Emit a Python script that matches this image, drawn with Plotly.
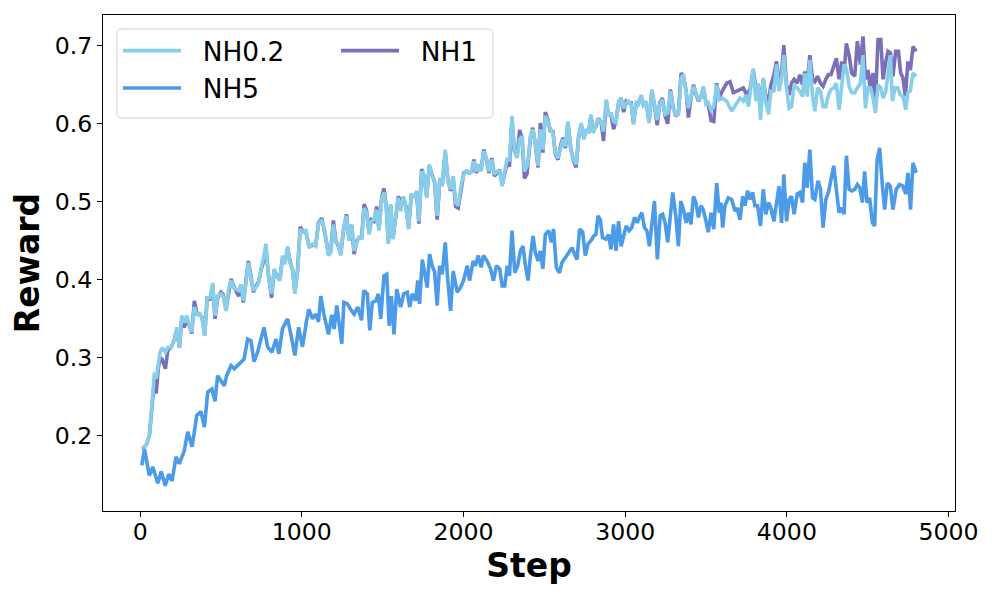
import plotly.graph_objects as go

# ---- data (step, reward) ----
nh02_points = [
    (12, 0.183), (37, 0.188), (57, 0.200), (74, 0.252), (88, 0.281), (99, 0.273), (111, 0.290),
    (123, 0.307), (136, 0.313), (156, 0.307), (171, 0.313), (191, 0.313), (212, 0.324), (226, 0.339),
    (243, 0.313), (257, 0.354), (274, 0.345), (288, 0.354), (305, 0.341), (319, 0.333), (335, 0.365),
    (352, 0.354), (366, 0.358), (383, 0.350), (399, 0.328), (414, 0.377), (432, 0.377), (449, 0.396),
    (463, 0.354), (479, 0.379), (500, 0.382), (514, 0.379), (531, 0.360), (547, 0.388), (562, 0.399),
    (578, 0.390), (593, 0.388), (609, 0.386), (623, 0.394), (638, 0.373), (654, 0.396), (669, 0.422),
    (685, 0.403), (700, 0.386), (716, 0.390), (733, 0.396), (747, 0.414), (761, 0.426), (778, 0.446),
    (794, 0.403), (813, 0.382), (829, 0.414), (846, 0.403), (864, 0.399), (881, 0.431), (895, 0.420),
    (912, 0.443), (926, 0.422), (943, 0.414), (957, 0.382), (973, 0.409), (990, 0.465), (1004, 0.461),
    (1025, 0.463), (1045, 0.441), (1066, 0.446), (1086, 0.443), (1103, 0.471), (1123, 0.477),
    (1143, 0.461), (1165, 0.431), (1179, 0.435), (1195, 0.471), (1210, 0.448), (1224, 0.446),
    (1241, 0.431), (1257, 0.465), (1276, 0.482), (1292, 0.450), (1309, 0.471), (1323, 0.437),
    (1340, 0.448), (1354, 0.456), (1370, 0.452), (1385, 0.492), (1401, 0.486), (1416, 0.458),
    (1430, 0.475), (1446, 0.477), (1463, 0.490), (1477, 0.463), (1494, 0.503), (1508, 0.512),
    (1523, 0.490), (1535, 0.446), (1549, 0.497), (1564, 0.452), (1580, 0.482), (1597, 0.505),
    (1611, 0.488), (1628, 0.507), (1644, 0.492), (1660, 0.465), (1677, 0.510), (1693, 0.505),
    (1710, 0.514), (1724, 0.475), (1741, 0.539), (1755, 0.535), (1772, 0.505), (1788, 0.548),
    (1805, 0.533), (1821, 0.527), (1837, 0.482), (1854, 0.531), (1868, 0.520), (1887, 0.567),
    (1903, 0.527), (1920, 0.516), (1936, 0.533), (1951, 0.499), (1967, 0.495), (1986, 0.522),
    (2002, 0.535), (2019, 0.541), (2035, 0.535), (2051, 0.541), (2064, 0.552), (2080, 0.539),
    (2094, 0.548), (2109, 0.539), (2125, 0.565), (2142, 0.556), (2157, 0.539), (2175, 0.554),
    (2191, 0.535), (2208, 0.539), (2224, 0.539), (2239, 0.520), (2253, 0.537), (2270, 0.556),
    (2284, 0.552), (2300, 0.610), (2315, 0.567), (2331, 0.556), (2347, 0.580), (2362, 0.584),
    (2377, 0.539), (2393, 0.546), (2399, 0.552), (2414, 0.584), (2428, 0.593), (2444, 0.576),
    (2461, 0.546), (2475, 0.593), (2491, 0.567), (2506, 0.610), (2522, 0.603), (2537, 0.593),
    (2553, 0.588), (2568, 0.563), (2584, 0.556), (2601, 0.571), (2615, 0.580), (2630, 0.571),
    (2646, 0.603), (2663, 0.567), (2681, 0.554), (2696, 0.548), (2712, 0.582), (2728, 0.601),
    (2745, 0.580), (2759, 0.593), (2774, 0.588), (2788, 0.612), (2802, 0.588), (2819, 0.599),
    (2835, 0.605), (2852, 0.603), (2866, 0.590), (2883, 0.631), (2897, 0.610), (2912, 0.614),
    (2928, 0.603), (2943, 0.601), (2959, 0.629), (2975, 0.631), (2990, 0.620), (3006, 0.627),
    (3020, 0.629), (3037, 0.625), (3051, 0.599), (3068, 0.627), (3082, 0.625), (3099, 0.637),
    (3113, 0.622), (3130, 0.629), (3148, 0.601), (3165, 0.644), (3181, 0.622), (3198, 0.605),
    (3214, 0.625), (3230, 0.631), (3247, 0.612), (3263, 0.614), (3280, 0.642), (3296, 0.620),
    (3313, 0.612), (3329, 0.612), (3346, 0.659), (3360, 0.663), (3377, 0.640), (3391, 0.620),
    (3407, 0.635), (3422, 0.648), (3438, 0.640), (3453, 0.631), (3469, 0.633), (3483, 0.648),
    (3500, 0.625), (3514, 0.627), (3531, 0.618), (3548, 0.622), (3566, 0.650), (3582, 0.631),
    (3600, 0.633), (3628, 0.629), (3659, 0.616), (3690, 0.627), (3710, 0.633), (3731, 0.629),
    (3747, 0.637), (3762, 0.622), (3776, 0.646), (3792, 0.671), (3809, 0.629), (3823, 0.652),
    (3837, 0.605), (3854, 0.659), (3870, 0.627), (3887, 0.612), (3901, 0.642), (3920, 0.642),
    (3936, 0.676), (3951, 0.642), (3967, 0.657), (3981, 0.688), (3998, 0.646), (4014, 0.620),
    (4029, 0.622), (4045, 0.650), (4064, 0.646), (4080, 0.642), (4097, 0.635), (4111, 0.665),
    (4126, 0.635), (4142, 0.682), (4159, 0.635), (4173, 0.616), (4190, 0.646), (4208, 0.642),
    (4224, 0.622), (4241, 0.622), (4257, 0.637), (4273, 0.644), (4290, 0.646), (4306, 0.652),
    (4323, 0.618), (4340, 0.648), (4354, 0.676), (4368, 0.671), (4385, 0.648), (4401, 0.640),
    (4420, 0.640), (4436, 0.646), (4455, 0.652), (4471, 0.688), (4486, 0.620), (4502, 0.646),
    (4517, 0.646), (4533, 0.633), (4548, 0.614), (4564, 0.650), (4581, 0.646), (4595, 0.633),
    (4612, 0.642), (4626, 0.665), (4640, 0.688), (4653, 0.629), (4669, 0.646), (4686, 0.646),
    (4702, 0.637), (4718, 0.635), (4735, 0.618), (4749, 0.640), (4764, 0.642), (4780, 0.665),
    (4800, 0.661),
]

nh1_points = [
    (12, 0.183), (37, 0.188), (57, 0.200), (74, 0.245), (88, 0.272), (99, 0.254), (111, 0.285),
    (123, 0.300), (136, 0.298), (156, 0.286), (171, 0.310), (191, 0.313), (212, 0.324), (226, 0.335),
    (243, 0.313), (257, 0.350), (274, 0.339), (288, 0.352), (305, 0.341), (319, 0.331), (335, 0.373),
    (352, 0.356), (366, 0.356), (383, 0.352), (399, 0.330), (414, 0.375), (432, 0.375), (449, 0.392),
    (463, 0.350), (479, 0.377), (500, 0.384), (514, 0.381), (531, 0.362), (547, 0.386), (562, 0.401),
    (578, 0.392), (593, 0.386), (609, 0.379), (623, 0.392), (638, 0.371), (654, 0.398), (669, 0.424),
    (685, 0.405), (700, 0.384), (716, 0.392), (733, 0.398), (747, 0.412), (761, 0.422), (778, 0.440),
    (794, 0.405), (813, 0.377), (829, 0.412), (846, 0.405), (864, 0.401), (881, 0.429), (895, 0.422),
    (912, 0.440), (926, 0.424), (943, 0.412), (957, 0.384), (973, 0.411), (990, 0.468), (1004, 0.463),
    (1025, 0.461), (1045, 0.443), (1066, 0.444), (1086, 0.445), (1103, 0.473), (1123, 0.479),
    (1143, 0.459), (1165, 0.433), (1179, 0.437), (1195, 0.476), (1210, 0.450), (1224, 0.444),
    (1241, 0.433), (1257, 0.463), (1276, 0.484), (1292, 0.452), (1309, 0.469), (1323, 0.433),
    (1340, 0.450), (1354, 0.454), (1370, 0.454), (1385, 0.497), (1401, 0.488), (1416, 0.460),
    (1430, 0.477), (1446, 0.475), (1463, 0.494), (1477, 0.465), (1494, 0.505), (1508, 0.517),
    (1523, 0.492), (1535, 0.448), (1549, 0.495), (1564, 0.454), (1580, 0.480), (1597, 0.507),
    (1611, 0.500), (1628, 0.505), (1644, 0.494), (1660, 0.467), (1677, 0.508), (1693, 0.507),
    (1710, 0.512), (1724, 0.472), (1741, 0.542), (1755, 0.533), (1772, 0.507), (1788, 0.546),
    (1805, 0.535), (1821, 0.525), (1837, 0.477), (1854, 0.529), (1868, 0.522), (1887, 0.563),
    (1903, 0.529), (1920, 0.514), (1936, 0.531), (1951, 0.494), (1967, 0.492), (1986, 0.520),
    (2002, 0.537), (2019, 0.539), (2035, 0.537), (2051, 0.539), (2064, 0.554), (2080, 0.537),
    (2094, 0.546), (2109, 0.541), (2125, 0.567), (2142, 0.554), (2157, 0.537), (2175, 0.556),
    (2191, 0.533), (2208, 0.537), (2224, 0.541), (2239, 0.522), (2253, 0.535), (2270, 0.550),
    (2284, 0.545), (2300, 0.605), (2315, 0.565), (2331, 0.558), (2347, 0.592), (2362, 0.582),
    (2377, 0.530), (2393, 0.536), (2399, 0.550), (2414, 0.582), (2428, 0.595), (2444, 0.574),
    (2461, 0.544), (2475, 0.601), (2491, 0.563), (2506, 0.615), (2522, 0.605), (2537, 0.591),
    (2553, 0.590), (2568, 0.561), (2584, 0.554), (2601, 0.573), (2615, 0.582), (2630, 0.569),
    (2646, 0.601), (2663, 0.569), (2681, 0.552), (2696, 0.544), (2712, 0.584), (2728, 0.599),
    (2745, 0.582), (2759, 0.591), (2774, 0.590), (2788, 0.610), (2802, 0.590), (2819, 0.597),
    (2835, 0.607), (2852, 0.601), (2866, 0.578), (2883, 0.629), (2897, 0.612), (2912, 0.612),
    (2928, 0.593), (2943, 0.603), (2959, 0.627), (2975, 0.633), (2990, 0.615), (3006, 0.629),
    (3020, 0.627), (3037, 0.627), (3051, 0.601), (3068, 0.625), (3082, 0.627), (3099, 0.635),
    (3113, 0.624), (3130, 0.627), (3148, 0.603), (3165, 0.642), (3181, 0.624), (3198, 0.598),
    (3214, 0.627), (3230, 0.633), (3247, 0.610), (3263, 0.600), (3280, 0.644), (3296, 0.622),
    (3313, 0.610), (3329, 0.614), (3346, 0.665), (3360, 0.661), (3377, 0.642), (3391, 0.608),
    (3407, 0.633), (3422, 0.650), (3438, 0.638), (3453, 0.629), (3469, 0.635), (3483, 0.646),
    (3500, 0.627), (3514, 0.625), (3531, 0.604), (3548, 0.603), (3566, 0.652), (3582, 0.633),
    (3600, 0.642), (3628, 0.652), (3648, 0.654), (3669, 0.640), (3690, 0.642), (3710, 0.644),
    (3731, 0.646), (3752, 0.637), (3772, 0.644), (3792, 0.669), (3809, 0.646), (3823, 0.650),
    (3837, 0.622), (3854, 0.657), (3870, 0.635), (3887, 0.629), (3901, 0.650), (3920, 0.663),
    (3936, 0.680), (3951, 0.654), (3967, 0.665), (3981, 0.701), (3998, 0.650), (4014, 0.637),
    (4029, 0.652), (4045, 0.657), (4064, 0.652), (4080, 0.663), (4097, 0.650), (4111, 0.667),
    (4126, 0.650), (4142, 0.688), (4159, 0.657), (4173, 0.654), (4190, 0.661), (4208, 0.652),
    (4224, 0.648), (4241, 0.657), (4257, 0.663), (4273, 0.663), (4290, 0.674), (4306, 0.684),
    (4323, 0.657), (4340, 0.680), (4354, 0.665), (4368, 0.703), (4385, 0.688), (4401, 0.665),
    (4420, 0.661), (4436, 0.706), (4455, 0.676), (4471, 0.712), (4486, 0.657), (4502, 0.669),
    (4517, 0.644), (4533, 0.665), (4548, 0.631), (4564, 0.708), (4581, 0.708), (4595, 0.657),
    (4612, 0.680), (4626, 0.693), (4640, 0.691), (4656, 0.661), (4673, 0.693), (4690, 0.693),
    (4704, 0.665), (4718, 0.659), (4733, 0.635), (4749, 0.680), (4764, 0.669), (4780, 0.699),
    (4800, 0.693),
]

nh5_points = [
    (10, 0.162), (27, 0.183), (56, 0.149), (78, 0.160), (109, 0.139), (130, 0.154), (155, 0.136),
    (177, 0.151), (197, 0.142), (222, 0.173), (241, 0.164), (272, 0.180), (294, 0.205), (321, 0.186),
    (350, 0.226), (376, 0.231), (397, 0.211), (418, 0.256), (444, 0.260), (463, 0.244), (479, 0.277),
    (500, 0.271), (520, 0.264), (535, 0.277), (562, 0.290), (582, 0.286), (603, 0.290), (623, 0.294),
    (642, 0.298), (665, 0.324), (685, 0.322), (704, 0.295), (726, 0.307), (747, 0.324), (766, 0.339),
    (788, 0.314), (815, 0.307), (840, 0.324), (858, 0.305), (880, 0.337), (912, 0.350), (932, 0.330),
    (957, 0.303), (980, 0.339), (1004, 0.314), (1028, 0.346), (1043, 0.362), (1066, 0.350),
    (1086, 0.356), (1103, 0.346), (1117, 0.379), (1136, 0.356), (1165, 0.330), (1185, 0.355),
    (1200, 0.337), (1216, 0.367), (1230, 0.341), (1247, 0.318), (1260, 0.371), (1282, 0.369),
    (1302, 0.362), (1323, 0.356), (1346, 0.365), (1369, 0.348), (1383, 0.386), (1405, 0.382),
    (1420, 0.335), (1436, 0.371), (1457, 0.373), (1473, 0.382), (1488, 0.350), (1508, 0.405),
    (1525, 0.407), (1540, 0.341), (1554, 0.379), (1570, 0.330), (1587, 0.388), (1611, 0.365),
    (1630, 0.382), (1652, 0.384), (1667, 0.365), (1683, 0.382), (1704, 0.373), (1717, 0.399),
    (1728, 0.369), (1745, 0.426), (1759, 0.410), (1775, 0.390), (1790, 0.433), (1806, 0.418),
    (1821, 0.410), (1837, 0.367), (1852, 0.418), (1868, 0.407), (1887, 0.448), (1901, 0.403),
    (1920, 0.360), (1936, 0.411), (1961, 0.384), (1981, 0.390), (2000, 0.399), (2023, 0.418),
    (2037, 0.399), (2060, 0.424), (2074, 0.418), (2091, 0.431), (2109, 0.416), (2123, 0.431),
    (2146, 0.424), (2167, 0.414), (2185, 0.399), (2204, 0.418), (2224, 0.414), (2239, 0.392),
    (2255, 0.392), (2270, 0.418), (2284, 0.405), (2300, 0.463), (2317, 0.409), (2335, 0.418),
    (2352, 0.437), (2368, 0.443), (2383, 0.418), (2399, 0.399), (2414, 0.431), (2430, 0.456),
    (2444, 0.435), (2461, 0.424), (2475, 0.437), (2491, 0.414), (2506, 0.458), (2527, 0.463),
    (2543, 0.448), (2557, 0.465), (2574, 0.416), (2593, 0.409), (2609, 0.422), (2630, 0.428),
    (2650, 0.435), (2671, 0.441), (2687, 0.433), (2702, 0.426), (2718, 0.465), (2737, 0.461),
    (2753, 0.431), (2770, 0.446), (2788, 0.450), (2805, 0.456), (2819, 0.458), (2832, 0.482),
    (2846, 0.477), (2860, 0.454), (2881, 0.452), (2897, 0.458), (2912, 0.439), (2928, 0.471),
    (2943, 0.437), (2959, 0.475), (2975, 0.443), (2990, 0.458), (3006, 0.469), (3025, 0.463),
    (3041, 0.467), (3058, 0.480), (3074, 0.473), (3088, 0.480), (3103, 0.486), (3119, 0.467),
    (3134, 0.463), (3150, 0.443), (3165, 0.473), (3181, 0.501), (3199, 0.426), (3216, 0.482),
    (3232, 0.484), (3247, 0.473), (3263, 0.448), (3278, 0.480), (3294, 0.512), (3313, 0.482),
    (3329, 0.443), (3344, 0.501), (3360, 0.490), (3377, 0.473), (3391, 0.486), (3407, 0.471),
    (3422, 0.507), (3437, 0.499), (3453, 0.480), (3469, 0.495), (3483, 0.490), (3500, 0.475),
    (3514, 0.461), (3531, 0.486), (3548, 0.465), (3566, 0.524), (3582, 0.486), (3592, 0.499),
    (3603, 0.467), (3617, 0.495), (3638, 0.505), (3659, 0.503), (3679, 0.488), (3693, 0.492),
    (3710, 0.477), (3727, 0.507), (3741, 0.495), (3757, 0.514), (3772, 0.503), (3788, 0.512),
    (3802, 0.495), (3819, 0.495), (3837, 0.469), (3854, 0.516), (3870, 0.484), (3887, 0.499),
    (3901, 0.492), (3920, 0.475), (3936, 0.499), (3951, 0.520), (3967, 0.473), (3981, 0.535),
    (3998, 0.475), (4014, 0.503), (4029, 0.507), (4045, 0.484), (4064, 0.510), (4080, 0.512),
    (4097, 0.499), (4111, 0.550), (4126, 0.518), (4142, 0.567), (4159, 0.505), (4173, 0.503),
    (4193, 0.527), (4208, 0.516), (4224, 0.467), (4241, 0.503), (4257, 0.512), (4273, 0.527),
    (4290, 0.546), (4306, 0.516), (4323, 0.486), (4340, 0.492), (4354, 0.484), (4368, 0.559),
    (4385, 0.516), (4401, 0.514), (4420, 0.516), (4436, 0.522), (4451, 0.518), (4467, 0.499),
    (4481, 0.539), (4496, 0.499), (4512, 0.505), (4529, 0.473), (4543, 0.469), (4558, 0.554),
    (4574, 0.569), (4591, 0.520), (4605, 0.490), (4621, 0.524), (4640, 0.520), (4656, 0.490),
    (4677, 0.516), (4697, 0.522), (4718, 0.520), (4735, 0.510), (4749, 0.537), (4765, 0.490),
    (4780, 0.550), (4800, 0.537),
]

x_ticks = [0, 1000, 2000, 3000, 4000, 5000]
y_ticks = [0.2, 0.3, 0.4, 0.5, 0.6, 0.7]

COLORS = {"NH0.2": "#87CEEB", "NH5": "#4C9BE8", "NH1": "#7A6FB9"}
FONT = "DejaVu Sans"
NBSP = "\u00a0"


def split(points):
    return [p[0] for p in points], [p[1] for p in points]


fig = go.Figure()
# purple underneath, light blue on top (as in the reference)
for name, pts, legend in [("NH1", nh1_points, "legend2"),
                          ("NH0.2", nh02_points, "legend"),
                          ("NH5", nh5_points, "legend")]:
    xs, ys = split(pts)
    fig.add_trace(go.Scatter(
        x=xs, y=ys, mode="lines", name=NBSP * 2 + name, legend=legend,
        legendrank={"NH0.2": 1, "NH5": 2, "NH1": 3}[name],
        line=dict(color=COLORS[name], width=3.6),
    ))

# the page body adds an 8 px offset; figure is sized so the plot frame
# lands where the reference frame is (x 103..955, y 15..511 on screen)
OFF = 8
W, H = 988, 590
L, R, T, B = 103 - OFF, 41, 15 - OFF, 87
pw, ph = W - L - R, H - T - B


def px_x(p):  # screen pixel -> paper fraction
    return (p - OFF - L) / pw


def px_y(p):
    return 1 - (p - OFF - T) / ph


legend_common = dict(
    font=dict(family=FONT, size=26.4, color="black"),
    bgcolor="rgba(0,0,0,0)", borderwidth=0,
    xanchor="left", yanchor="top", itemwidth=58,
    traceorder="normal", tracegroupgap=0,
)

# rounded legend frame
x0, x1 = px_x(117), px_x(493)
y0, y1 = px_y(118), px_y(29)
rx, ry = 5 / pw, 5 / ph
frame = (f"M{x0+rx},{y0} L{x1-rx},{y0} Q{x1},{y0} {x1},{y0+ry} L{x1},{y1-ry} "
         f"Q{x1},{y1} {x1-rx},{y1} L{x0+rx},{y1} Q{x0},{y1} {x0},{y1-ry} "
         f"L{x0},{y0+ry} Q{x0},{y0} {x0+rx},{y0} Z")

fig.update_layout(
    width=W, height=H,
    margin=dict(l=L, r=R, t=T, b=B),
    paper_bgcolor="white", plot_bgcolor="white",
    font=dict(family=FONT, color="black"),
    showlegend=True,
    legend=dict(x=px_x(118), y=px_y(27), **legend_common),
    legend2=dict(x=px_x(336), y=px_y(27), **legend_common),
    shapes=[dict(type="path", path=frame, xref="paper", yref="paper",
                 line=dict(color="#d0d0d0", width=1), fillcolor="rgba(255,255,255,0.8)",
                 layer="below")],
    xaxis=dict(
        range=[-230, 5040], tickmode="array", tickvals=x_ticks,
        ticktext=[str(v) for v in x_ticks],
        showline=True, linecolor="black", linewidth=1.1, mirror=True,
        ticks="outside", ticklen=5, tickwidth=1.1, tickcolor="black",
        ticklabelstandoff=-5,
        showgrid=False, zeroline=False,
        tickfont=dict(family=FONT, size=23.6, color="black"),
        title=dict(text="<b>Step</b>", font=dict(family=FONT, size=33, color="black"), standoff=2),
    ),
    yaxis=dict(
        range=[0.1035, 0.7395], tickmode="array", tickvals=y_ticks,
        ticktext=[f"{v:.1f}" for v in y_ticks],
        showline=True, linecolor="black", linewidth=1.1, mirror=True,
        ticks="outside", ticklen=5, tickwidth=1.1, tickcolor="black",
        showgrid=False, zeroline=False,
        tickfont=dict(family=FONT, size=23.6, color="black"),
        title=dict(text="<b>Reward</b>", font=dict(family=FONT, size=33, color="black"), standoff=6),
    ),
)

fig.write_html("out.html")
